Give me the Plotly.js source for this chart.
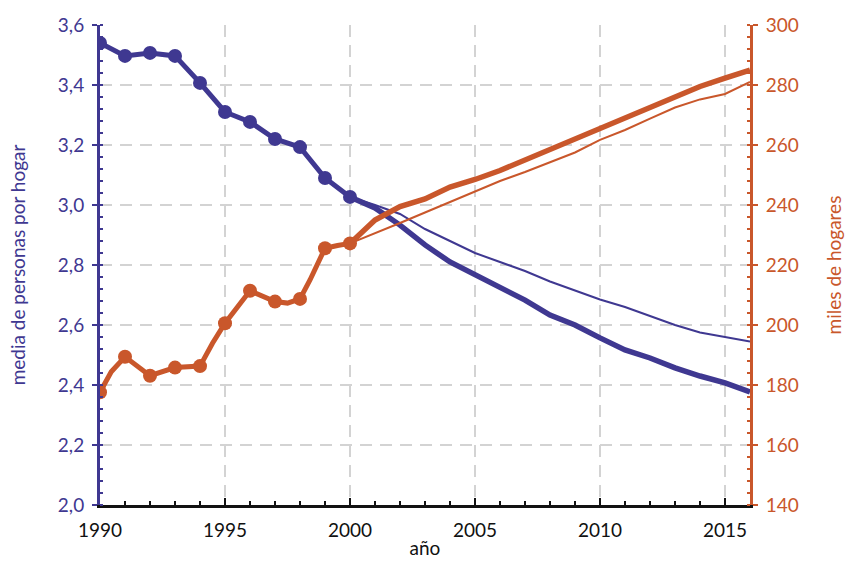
<!DOCTYPE html>
<html><head><meta charset="utf-8">
<script src="https://cdn.plot.ly/plotly-3.0.1.min.js"></script>
<style>body{margin:0;background:#fff}#c{width:848px;height:563px}</style>
</head><body><div id="c"></div>
<script>
// Historic annual data (markers)
const yearsHist = [1990,1991,1992,1993,1994,1995,1996,1997,1998,1999,2000];
const personasHist = [3.54,3.497,3.507,3.497,3.407,3.31,3.277,3.22,3.193,3.09,3.027];
const hogaresHist = [177.6,189.4,183.1,185.8,186.3,200.6,211.4,207.8,208.7,225.6,227.2];
// Orange historic line including readable bends between annual points
const yearsHogLine = [1990,1990.45,1991,1992,1993,1994,1994.5,1995,1996,1997,1997.5,1998,1998.4,1999,1999.5,2000];
const hogaresLine = [177.6,184.4,189.4,183.1,185.8,186.3,193.9,200.6,211.4,207.8,207.3,208.7,215,225.6,226.5,227.2];
// Projections 2000-2016
const yearsProj = [2000,2001,2002,2003,2004,2005,2006,2007,2008,2009,2010,2011,2012,2013,2014,2015,2016];
const personasThick = [3.027,2.99,2.933,2.867,2.81,2.767,2.723,2.683,2.633,2.60,2.557,2.517,2.49,2.457,2.43,2.407,2.377];
const personasThin  = [3.027,3.00,2.97,2.92,2.88,2.84,2.81,2.78,2.745,2.715,2.685,2.66,2.63,2.60,2.575,2.56,2.545];
const hogaresThick = [227.2,235,239.5,242,246,248.5,251.5,255,258.5,262,265.5,269,272.5,276,279.5,282.3,285];
const hogaresThin  = [227.2,230.5,234,237.5,241,244.5,248,251,254.3,257.5,261.7,265,268.8,272.5,275.2,277,281];

const PURPLE = '#3f3891';
const ORANGE = '#c9572b';
const FONT = 'Lato, "DejaVu Sans", sans-serif';
const FS = 19;

const traces = [
  {x: yearsProj, y: personasThin, mode:'lines', line:{color:PURPLE, width:2}, yaxis:'y'},
  {x: yearsProj, y: hogaresThin, mode:'lines', line:{color:ORANGE, width:2}, yaxis:'y2'},
  {x: yearsProj, y: personasThick, mode:'lines', line:{color:PURPLE, width:5.5}, yaxis:'y'},
  {x: yearsProj, y: hogaresThick, mode:'lines', line:{color:ORANGE, width:5.5}, yaxis:'y2'},
  {x: yearsHist, y: personasHist, mode:'lines+markers', line:{color:PURPLE, width:5}, marker:{color:PURPLE, size:14}, yaxis:'y'},
  {x: yearsHogLine, y: hogaresLine, mode:'lines', line:{color:ORANGE, width:5}, yaxis:'y2'},
  {x: yearsHist, y: hogaresHist, mode:'markers', marker:{color:ORANGE, size:14}, yaxis:'y2'}
];

const GRID = {showgrid:true, gridcolor:'#d3d3d3', gridwidth:2, griddash:'12px,8px'};

const layout = {
  width:848, height:563,
  margin:{l:100, r:98, t:25, b:58},
  paper_bgcolor:'#fff', plot_bgcolor:'#fff',
  showlegend:false,
  separators:',.',
  font:{family:FONT, size:FS, color:'#222'},
  xaxis:Object.assign({
    range:[1990,2016], tick0:1990, dtick:5, tickmode:'linear',
    showline:true, linecolor:'#111', linewidth:3,
    ticks:'inside', ticklen:7, tickwidth:2, tickcolor:'#111',
    minor:{dtick:1, ticks:'inside', ticklen:4, tickwidth:2, tickcolor:'#111', showgrid:false},
    zeroline:false, ticklabelstandoff:6,
    tickfont:{family:FONT, size:FS, color:'#111'},
    title:{text:'año', font:{family:FONT, size:FS, color:'#111'}, standoff:2}
  }, GRID),
  yaxis:Object.assign({
    range:[2.0,3.6], dtick:0.2, tick0:2.0, tickmode:'linear', tickformat:'.1f',
    showline:true, linecolor:PURPLE, linewidth:3,
    ticks:'outside', ticklen:5, tickwidth:2, tickcolor:PURPLE,
    minor:{dtick:0.04, ticks:'inside', ticklen:3, tickwidth:2, tickcolor:PURPLE, showgrid:false},
    zeroline:false, ticklabelstandoff:4,
    tickfont:{family:FONT, size:FS, color:PURPLE},
    title:{text:'media de personas por hogar', font:{family:FONT, size:FS, color:PURPLE}, standoff:28}
  }, GRID),
  yaxis2:{
    overlaying:'y', side:'right',
    range:[140,300], dtick:20, tick0:140, tickmode:'linear',
    showgrid:false,
    showline:true, linecolor:ORANGE, linewidth:3,
    ticks:'outside', ticklen:5, tickwidth:2, tickcolor:ORANGE,
    minor:{dtick:4, ticks:'inside', ticklen:3, tickwidth:2, tickcolor:ORANGE, showgrid:false},
    zeroline:false, ticklabelstandoff:4,
    tickfont:{family:FONT, size:FS, color:ORANGE},
    title:{text:'miles de hogares', font:{family:FONT, size:FS, color:ORANGE}, standoff:30}
  }
};

Plotly.newPlot('c', traces, layout, {displayModeBar:false, staticPlot:true});
</script>
</body></html>
